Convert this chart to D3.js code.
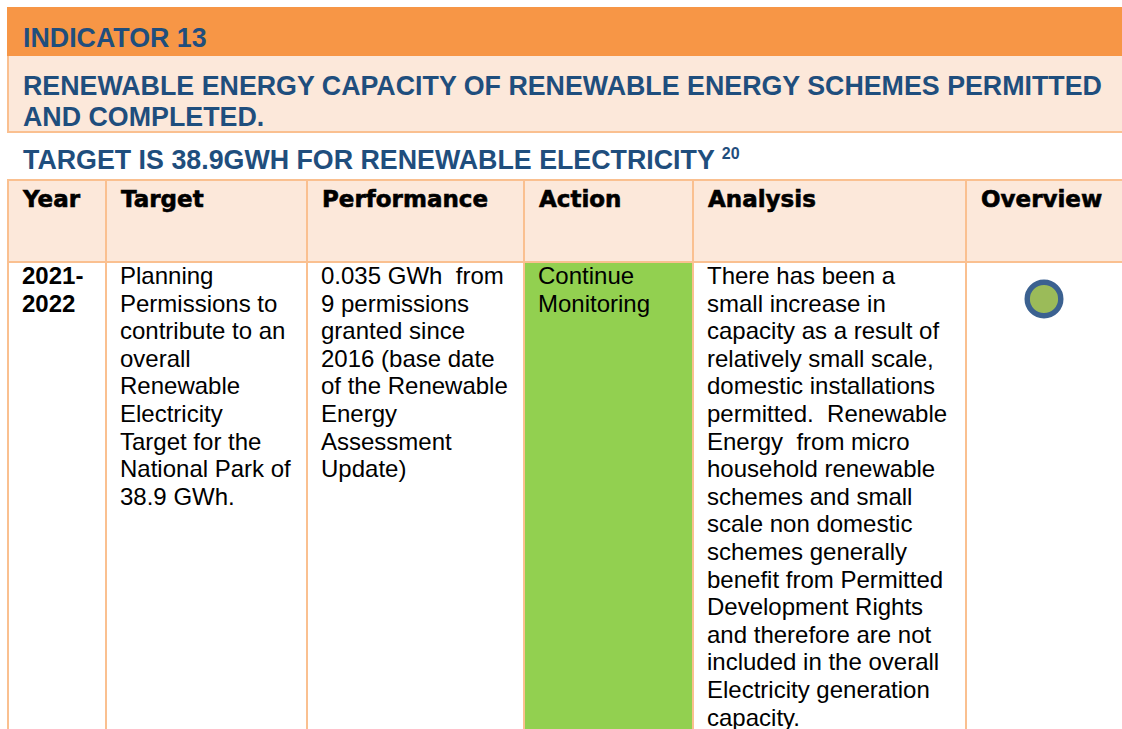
<!DOCTYPE html>
<html>
<head>
<meta charset="utf-8">
<script src="https://cdn.jsdelivr.net/npm/d3@7"></script>
<style>
  html, body { margin: 0; padding: 0; background: #fff; }
  svg { display: block; }
  text { white-space: pre; }
</style>
</head>
<body>
<div id="main"></div>
<script>
!(function () {
  'use strict';

  // data
  const indicator = 'INDICATOR 13';
  const titleLines = ['RENEWABLE ENERGY CAPACITY OF RENEWABLE ENERGY SCHEMES PERMITTED', 'AND COMPLETED.'];
  const targetLine = 'TARGET IS 38.9GWH FOR RENEWABLE ELECTRICITY';
  const footnote = '20';
  const columns = ['Year', 'Target', 'Performance', 'Action', 'Analysis', 'Overview'];
  const yearLines = ['2021-', '2022'];
  const targetText = ['Planning', 'Permissions to', 'contribute to an', 'overall', 'Renewable',
    'Electricity', 'Target for the', 'National Park of', '38.9 GWh.'];
  const performanceText = ['0.035 GWh  from', '9 permissions', 'granted since', '2016 (base date',
    'of the Renewable', 'Energy', 'Assessment', 'Update)'];
  const actionText = ['Continue', 'Monitoring'];
  const analysisText = ['There has been a', 'small increase in', 'capacity as a result of',
    'relatively small scale,', 'domestic installations', 'permitted.  Renewable',
    'Energy  from micro', 'household renewable', 'schemes and small', 'scale non domestic',
    'schemes generally', 'benefit from Permitted', 'Development Rights', 'and therefore are not',
    'included in the overall', 'Electricity generation', 'capacity.'];
  const overviewStatus = ['green'];

  // layout
  const canvas = { width: 1122, height: 729, left: 7, right: 1122 };
  const colEdges = [7, 105, 306, 523, 692, 965, 1200];
  const colour = {
    orange: '#F79646', peach: '#FCE8DA', border: '#FAC090', blue: '#1F4E7D',
    action: '#92D050', dotFill: '#9BBB59', dotStroke: '#3B6190'
  };
  const sans = '"Liberation Sans", Arial, sans-serif';
  const heavy = '"DejaVu Sans", "Liberation Sans", sans-serif';
  const titleSize = 26.8;

  const xCol = d3.scaleOrdinal().domain(columns).range(colEdges.slice(0, columns.length));
  const wCol = d3.scaleOrdinal().domain(columns)
    .range(columns.map((c, i) => colEdges[i + 1] - colEdges[i]));
  const lineY = d3.scaleLinear().domain([0, 1]).range([284, 284 + 27.6]);

  const svg = d3.select('#main').append('svg')
    .attr('width', canvas.width)
    .attr('height', canvas.height);

  // banner bands
  svg.append('rect').attr('x', canvas.left).attr('y', 7)
    .attr('width', canvas.right - canvas.left).attr('height', 49).attr('fill', colour.orange);
  svg.append('rect').attr('x', canvas.left).attr('y', 56)
    .attr('width', canvas.right - canvas.left).attr('height', 76).attr('fill', colour.peach);
  svg.append('line').attr('x1', canvas.left + 1).attr('x2', canvas.left + 1).attr('y1', 56).attr('y2', 132)
    .attr('stroke', colour.border).attr('stroke-width', 2);
  svg.append('line').attr('x1', canvas.left).attr('x2', canvas.right).attr('y1', 132).attr('y2', 132)
    .attr('stroke', colour.border).attr('stroke-width', 2);

  svg.append('text').attr('x', 23).attr('y', 47)
    .attr('font-family', sans).attr('font-weight', 'bold').attr('font-size', titleSize)
    .attr('fill', colour.blue).text(indicator);

  svg.append('g').selectAll('text').data(titleLines).enter().append('text')
    .attr('x', 23).attr('y', (d, i) => 95 + i * 31)
    .attr('font-family', sans).attr('font-weight', 'bold').attr('font-size', titleSize)
    .attr('fill', colour.blue).text(d => d);

  const tgt = svg.append('text').attr('x', 23).attr('y', 169)
    .attr('font-family', sans).attr('font-weight', 'bold').attr('font-size', titleSize)
    .attr('fill', colour.blue);
  tgt.append('tspan').text(targetLine + ' ');
  tgt.append('tspan').attr('font-size', 16).attr('dy', -10).text(footnote);

  // table header row
  svg.append('rect').attr('x', canvas.left).attr('y', 180)
    .attr('width', canvas.right - canvas.left).attr('height', 82).attr('fill', colour.peach);

  // action cell fill
  svg.append('rect').attr('x', xCol('Action')).attr('y', 262)
    .attr('width', wCol('Action')).attr('height', canvas.height - 262).attr('fill', colour.action);

  // grid lines
  const grid = svg.append('g').attr('stroke', colour.border).attr('stroke-width', 2);
  grid.selectAll('line.h').data([180, 262]).enter().append('line')
    .attr('x1', canvas.left).attr('x2', canvas.right)
    .attr('y1', d => d).attr('y2', d => d);
  grid.selectAll('line.v').data(columns).enter().append('line')
    .attr('x1', d => xCol(d) + 1).attr('x2', d => xCol(d) + 1)
    .attr('y1', 180).attr('y2', canvas.height);

  // header labels
  svg.append('g').selectAll('text').data(columns).enter().append('text')
    .attr('x', d => xCol(d) + 16).attr('y', 207)
    .attr('font-family', heavy).attr('font-weight', 'bold').attr('font-size', 23)
    .attr('fill', '#000').attr('stroke', '#000').attr('stroke-width', 0.6)
    .text(d => d);

  // body cells
  const cells = [
    { col: 'Year', lines: yearLines, bold: true },
    { col: 'Target', lines: targetText },
    { col: 'Performance', lines: performanceText },
    { col: 'Action', lines: actionText },
    { col: 'Analysis', lines: analysisText }
  ];
  cells.forEach(cell => {
    svg.append('g').selectAll('text').data(cell.lines).enter().append('text')
      .attr('x', xCol(cell.col) + 15).attr('y', (d, i) => lineY(i))
      .attr('font-family', sans).attr('font-weight', cell.bold ? 'bold' : 'normal')
      .attr('font-size', 24).attr('fill', '#000')
      .text(d => d);
  });

  // overview status dot
  svg.append('g').selectAll('circle').data(overviewStatus).enter().append('circle')
    .attr('cx', xCol('Overview') + 79).attr('cy', 299).attr('r', 16.8)
    .attr('fill', colour.dotFill).attr('stroke', colour.dotStroke).attr('stroke-width', 5.4);
}());
</script>
</body>
</html>
